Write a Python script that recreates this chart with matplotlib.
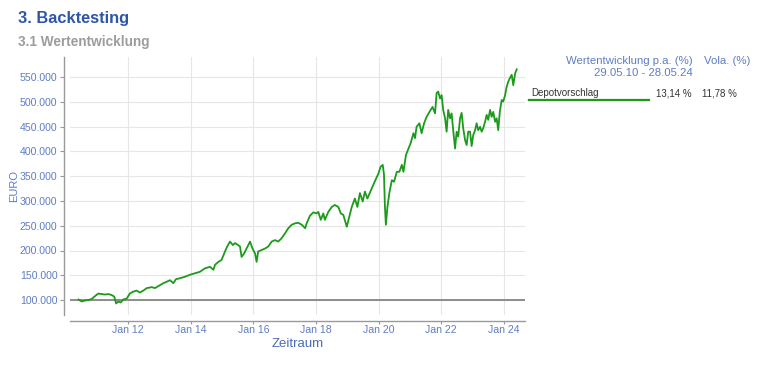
import datetime as dt
import matplotlib
matplotlib.use("Agg")
import matplotlib.pyplot as plt
import matplotlib.dates as mdates
from matplotlib.ticker import FuncFormatter, FixedLocator
from matplotlib.lines import Line2D

plt.rcParams['font.family'] = ['Liberation Sans', 'DejaVu Sans']

# ---- data (decimal years, values in thousand EUR) ----
years = [2010.41, 2010.51, 2010.62, 2010.72, 2010.83, 2010.94, 2011.04, 2011.15, 2011.26, 2011.36,
         2011.47, 2011.55, 2011.61, 2011.68, 2011.76, 2011.84, 2011.95, 2012.05, 2012.16, 2012.27,
         2012.37, 2012.48, 2012.59, 2012.75, 2012.85, 2012.96, 2013.12, 2013.23, 2013.33, 2013.44,
         2013.52, 2013.65, 2013.81, 2013.97, 2014.13, 2014.29, 2014.45, 2014.61, 2014.72, 2014.77,
         2014.88, 2014.98, 2015.09, 2015.16, 2015.25, 2015.34, 2015.41, 2015.51, 2015.57, 2015.62,
         2015.70, 2015.78, 2015.89, 2015.97, 2016.05, 2016.10, 2016.15, 2016.26, 2016.37, 2016.47,
         2016.58, 2016.69, 2016.79, 2016.90, 2017.01, 2017.11, 2017.22, 2017.33, 2017.43, 2017.54,
         2017.65, 2017.70, 2017.80, 2017.91, 2018.02, 2018.07, 2018.15, 2018.23, 2018.28, 2018.39,
         2018.50, 2018.60, 2018.71, 2018.79, 2018.87, 2018.98, 2019.06, 2019.14, 2019.24, 2019.32,
         2019.40, 2019.49, 2019.56, 2019.64, 2019.72, 2019.81, 2019.88, 2019.99, 2020.06, 2020.13,
         2020.17, 2020.20, 2020.23, 2020.28, 2020.34, 2020.42, 2020.49, 2020.58, 2020.66, 2020.74,
         2020.79, 2020.87, 2020.95, 2021.02, 2021.11, 2021.16, 2021.21, 2021.30, 2021.37, 2021.45,
         2021.53, 2021.64, 2021.72, 2021.80, 2021.85, 2021.90, 2021.96, 2022.01, 2022.06, 2022.12,
         2022.17, 2022.22, 2022.28, 2022.33, 2022.38, 2022.44, 2022.49, 2022.54, 2022.60, 2022.65,
         2022.70, 2022.76, 2022.81, 2022.86, 2022.92, 2022.97, 2023.02, 2023.08, 2023.13, 2023.18,
         2023.24, 2023.29, 2023.34, 2023.40, 2023.45, 2023.50, 2023.56, 2023.61, 2023.66, 2023.72,
         2023.77, 2023.82, 2023.87, 2023.93, 2023.98, 2024.04, 2024.09, 2024.14, 2024.19, 2024.25,
         2024.30, 2024.36, 2024.41]
values_k = [101, 97, 99, 100, 102, 108, 113, 112, 111, 112,
            110, 107, 93, 97, 95, 101, 103, 113, 117, 119,
            115, 119, 124, 126, 124, 128, 134, 137, 140, 134,
            142, 144, 147, 151, 154, 157, 164, 167, 161, 171,
            177, 181, 198, 208, 218, 211, 215, 211, 208, 187,
            194, 204, 218, 204, 194, 177, 198, 201, 204, 208,
            218, 221, 218, 225, 235, 245, 252, 255, 256, 252,
            245, 255, 270, 277, 275, 278, 262, 275, 262, 278,
            288, 292, 288, 275, 272, 248, 268, 288, 305, 288,
            316, 299, 319, 305, 317, 330, 340, 355, 369, 373,
            353, 288, 252, 288, 316, 342, 339, 359, 359, 373,
            359, 393, 406, 417, 437, 427, 450, 457, 437, 457,
            470, 482, 490, 477, 518, 521, 507, 514, 484, 467,
            440, 484, 467, 477, 443, 406, 440, 430, 467, 478,
            447, 423, 413, 440, 440, 411, 433, 443, 457, 443,
            450, 440, 447, 460, 474, 464, 484, 470, 480, 460,
            467, 443, 480, 504, 501, 514, 531, 541, 548, 555,
            534, 558, 566]
values = [v * 1000 for v in values_k]

series_name = "Depotvorschlag"
perf_pa = "13,14 %"
vola = "11,78 %"
period = "29.05.10 - 28.05.24"
y_ticks = [100000, 150000, 200000, 250000, 300000, 350000, 400000, 450000, 500000, 550000]
x_tick_years = [2012, 2014, 2016, 2018, 2020, 2022, 2024]


def to_date(y):
    yr = int(y)
    start = dt.datetime(yr, 1, 1)
    end = dt.datetime(yr + 1, 1, 1)
    return start + (end - start) * (y - yr)


dates = [to_date(y) for y in years]

W, H = 768, 365
fig = plt.figure(figsize=(W / 100, H / 100), dpi=100)

ax_l, ax_r, ax_t, ax_b = 70, 525, 57, 315
ax = fig.add_axes([ax_l / W, 1 - ax_b / H, (ax_r - ax_l) / W, (ax_b - ax_t) / H])

blue_tick = "#5f7cc4"
green = "#1b9a1b"

ax.plot(dates, values, color=green, lw=1.3, zorder=3)
ax.axhline(100000, color="#8c8c8c", lw=1.4, zorder=2)

ax.set_xlim(to_date(2010.137), to_date(2024.674))
ax.set_ylim(69700, 590900)

ax.yaxis.set_major_locator(FixedLocator(y_ticks))
ax.yaxis.set_major_formatter(FuncFormatter(lambda v, p: f"{int(v):,}".replace(",", ".")))
ax.xaxis.set_major_locator(FixedLocator([mdates.date2num(dt.datetime(y, 1, 1)) for y in x_tick_years]))
ax.xaxis.set_major_formatter(mdates.DateFormatter("Jan %y"))

ax.grid(True, color="#e6e6e6", lw=0.8, zorder=0)
ax.set_axisbelow(True)

for s in ["top", "right"]:
    ax.spines[s].set_visible(False)
ax.spines["left"].set_position(("outward", 4))
ax.spines["bottom"].set_position(("outward", 4))
ax.spines["left"].set_color("#999999")
ax.spines["bottom"].set_color("#999999")
ax.spines["left"].set_linewidth(1.0)
ax.spines["bottom"].set_linewidth(1.0)

ax.tick_params(axis="y", colors="#999999", labelcolor=blue_tick, labelsize=7.6, length=3, width=0.8, pad=2)
ax.tick_params(axis="x", colors="#999999", labelcolor=blue_tick, labelsize=7.6, length=2.5, width=0.8, pad=0.5)

ax.set_ylabel("EURO", color=blue_tick, fontsize=8)
ax.yaxis.set_label_coords((19 - ax_l) / (ax_r - ax_l), 0.5)
ax.set_xlabel("Zeitraum", color="#4a6bb8", fontsize=9.5, va="center")
ax.xaxis.set_label_coords(0.5, -(344 - ax_b) / (ax_b - ax_t))


def fx(x):
    return x / W


def fy(y):
    return 1 - y / H


fig.text(fx(18), fy(19), "3. Backtesting", color="#2e56a6", fontsize=11.8, fontweight="bold",
         ha="left", va="center")
fig.text(fx(18), fy(42), "3.1 Wertentwicklung", color="#9c9c9c", fontsize=9.8, fontweight="bold",
         ha="left", va="center")

fig.text(fx(693), fy(61), "Wertentwicklung p.a. (%)", color=blue_tick, fontsize=8.2, ha="right", va="center")
fig.text(fx(693), fy(72.5), period, color=blue_tick, fontsize=8.2, ha="right", va="center")
fig.text(fx(750), fy(61), "Vola. (%)", color=blue_tick, fontsize=8.2, ha="right", va="center")

fig.text(fx(531), fy(93), series_name, color="#333333", fontsize=7.0, ha="left", va="center")
fig.text(fx(692), fy(93), perf_pa, color="#333333", fontsize=7.0, ha="right", va="center")
fig.text(fx(737), fy(93), vola, color="#333333", fontsize=7.0, ha="right", va="center")
fig.add_artist(Line2D([fx(529), fx(649)], [fy(100), fy(100)], color=green, lw=1.6))

fig.savefig("out.png", dpi=100)
